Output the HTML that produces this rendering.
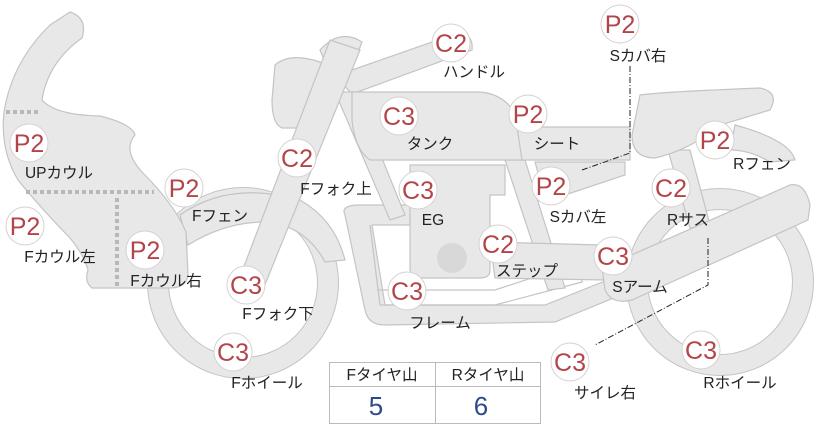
<!DOCTYPE html>
<html><head><meta charset="utf-8"><style>
html,body{margin:0;padding:0;background:#fff;}
svg{display:block;}
.s{fill:#e8e8e8;stroke:#c4c4c4;stroke-width:1.2;}
.t{font-family:"Liberation Sans","Noto Sans CJK JP",sans-serif;font-size:15.5px;fill:#222;}
.b{font-family:"Liberation Sans","Noto Sans CJK JP",sans-serif;font-size:25px;fill:#b3454a;}
</style></head><body>
<svg width="822" height="425" viewBox="0 0 822 425" xmlns="http://www.w3.org/2000/svg">
<circle cx="243" cy="283" r="85" fill="none" stroke="#c4c4c4" stroke-width="22"/>
<circle cx="243" cy="283" r="85" fill="none" stroke="#e8e8e8" stroke-width="20"/>
<path class="s" d="M180,215 Q230,180 300,200 Q335,220 345,260 L325,262 Q305,225 265,222 Q225,222 188,245 Z"/>
<circle cx="720" cy="282" r="83" fill="none" stroke="#c4c4c4" stroke-width="22"/>
<circle cx="720" cy="282" r="83" fill="none" stroke="#e8e8e8" stroke-width="20"/>
<path class="s" d="M70,12 Q88,18 82,38 Q48,62 42,100 Q55,115 100,116 Q132,124 135,135 Q122,150 142,172 Q175,205 186,232 L188,275 Q186,288 170,288 L92,288 Q84,282 88,270 Q84,255 70,238 Q38,205 18,180 Q0,150 4,112 Q12,62 50,25 Z"/>
<path d="M6,112 H40 M26,192 H154 M117,198 V286" stroke="#b8b8b8" stroke-width="4" stroke-dasharray="4,3" fill="none"/>
<path class="s" d="M275,65 Q290,52 320,62 Q340,70 338,95 Q336,125 300,128 L282,128 Q272,124 272,100 Z"/>
<path class="s" d="M320,50 Q340,28 362,42 L355,60 L325,62 Z"/>
<path class="s" d="M335,76 L455,34 Q474,32 472,50 L352,94 Z"/>
<path class="s" d="M345,215 Q340,205 360,205 L410,205 L410,225 L372,225 L385,305 L545,305 L620,275 L628,292 L555,322 L385,325 Q368,325 365,310 Z"/>
<path class="s" d="M370,225 L378,290 L495,290 L580,262 L582,282 L495,305 L380,305 Z" fill-opacity="0"/>
<path class="s" d="M335,92 L355,92 L405,215 L390,220 Z"/>
<path class="s" d="M505,160 L525,160 L565,288 L548,290 Z"/>
<path class="s" d="M352,92 L480,92 Q515,95 522,135 L522,160 L370,160 Q355,150 352,120 Z"/>
<path class="s" d="M410,165 L505,165 L505,195 L490,195 L490,270 Q490,278 480,278 L420,278 Q410,278 410,268 Z"/>
<circle cx="452" cy="258" r="15" fill="#d8d8d8"/>
<circle cx="510" cy="266" r="10" fill="#d0d0d0"/>
<path class="s" d="M490,242 L600,245 L605,280 L495,278 Z"/>
<path class="s" d="M330,40 L360,50 L262,292 L238,282 Z"/>
<path class="s" d="M517,127 L630,127 L630,160 L522,160 Z"/>
<path class="s" d="M535,162 L625,162 L625,175 L565,195 L545,198 Z"/>
<path class="s" d="M668,150 L690,150 L710,225 L690,228 Z"/>
<path class="s" d="M735,125 Q790,140 795,160 L770,162 Q750,150 730,150 Z"/>
<path class="s" d="M640,95 Q660,92 760,88 Q780,92 770,110 L720,125 Q690,150 655,158 Q632,158 632,135 Z"/>
<path class="s" d="M602,268 L790,185 Q805,182 810,205 L808,220 L632,300 Q612,305 605,290 Z"/>
<path d="M630,66 V153 L582,170" stroke="#222" stroke-width="1" fill="none" stroke-dasharray="6,2,1,2"/>
<path d="M708,238 V285 L595,345" stroke="#222" stroke-width="1" fill="none" stroke-dasharray="6,2,1,2"/>
<rect x="329.5" y="362.5" width="211" height="61" fill="#fff" stroke="#bbb"/>
<line x1="329" y1="386.5" x2="541" y2="386.5" stroke="#bbb"/>
<line x1="435.5" y1="362" x2="435.5" y2="424" stroke="#bbb"/>
<text class="t" x="382" y="380" text-anchor="middle">Fタイヤ山</text>
<text class="t" x="488" y="380" text-anchor="middle">Rタイヤ山</text>
<text x="376" y="415" text-anchor="middle" font-family="Liberation Sans,sans-serif" font-size="26" fill="#2d4a8a">5</text>
<text x="481" y="415" text-anchor="middle" font-family="Liberation Sans,sans-serif" font-size="26" fill="#2d4a8a">6</text>
<g stroke="#d8d0d0" stroke-width="1" fill="#fff">
<circle cx="451" cy="43" r="19"/><circle cx="620" cy="24" r="19"/><circle cx="399" cy="116" r="19"/>
<circle cx="528" cy="114" r="19"/><circle cx="715" cy="140" r="19"/><circle cx="29" cy="143" r="19"/>
<circle cx="297" cy="158" r="19"/><circle cx="418" cy="190" r="19"/><circle cx="551" cy="186" r="19"/>
<circle cx="671" cy="188" r="19"/><circle cx="184" cy="188" r="19"/><circle cx="25" cy="226" r="19"/>
<circle cx="145" cy="250" r="19"/><circle cx="498" cy="244" r="19"/><circle cx="613" cy="256" r="19"/>
<circle cx="246" cy="285" r="19"/><circle cx="407" cy="291" r="19"/><circle cx="233" cy="352" r="19"/>
<circle cx="570" cy="362" r="19"/><circle cx="701" cy="350" r="19"/>
</g>
<g class="b" text-anchor="middle">
<text x="451" y="52">C2</text><text x="620" y="33">P2</text><text x="399" y="125">C3</text>
<text x="528" y="123">P2</text><text x="715" y="149">P2</text><text x="29" y="152">P2</text>
<text x="297" y="167">C2</text><text x="418" y="199">C3</text><text x="551" y="195">P2</text>
<text x="671" y="197">C2</text><text x="184" y="197">P2</text><text x="25" y="235">P2</text>
<text x="145" y="259">P2</text><text x="498" y="253">C2</text><text x="613" y="265">C3</text>
<text x="246" y="294">C3</text><text x="407" y="300">C3</text><text x="233" y="361">C3</text>
<text x="570" y="371">C3</text><text x="701" y="359">C3</text>
</g>
<g class="t" text-anchor="middle">
<text x="474" y="77">ハンドル</text><text x="638" y="61">Sカバ右</text><text x="430" y="149">タンク</text>
<text x="557" y="149">シート</text><text x="762" y="169">Rフェン</text><text x="59" y="178">UPカウル</text>
<text x="336" y="194">Fフォク上</text><text x="433" y="225">EG</text><text x="578" y="222">Sカバ左</text>
<text x="688" y="225">Rサス</text><text x="220" y="221">Fフェン</text><text x="60" y="262">Fカウル左</text>
<text x="166" y="286">Fカウル右</text><text x="527" y="276">ステップ</text><text x="640" y="292">Sアーム</text>
<text x="278" y="319">Fフォク下</text><text x="440" y="328">フレーム</text><text x="267" y="388">Fホイール</text>
<text x="605" y="398">サイレ右</text><text x="740" y="388">Rホイール</text>
</g>
</svg>
</body></html>
